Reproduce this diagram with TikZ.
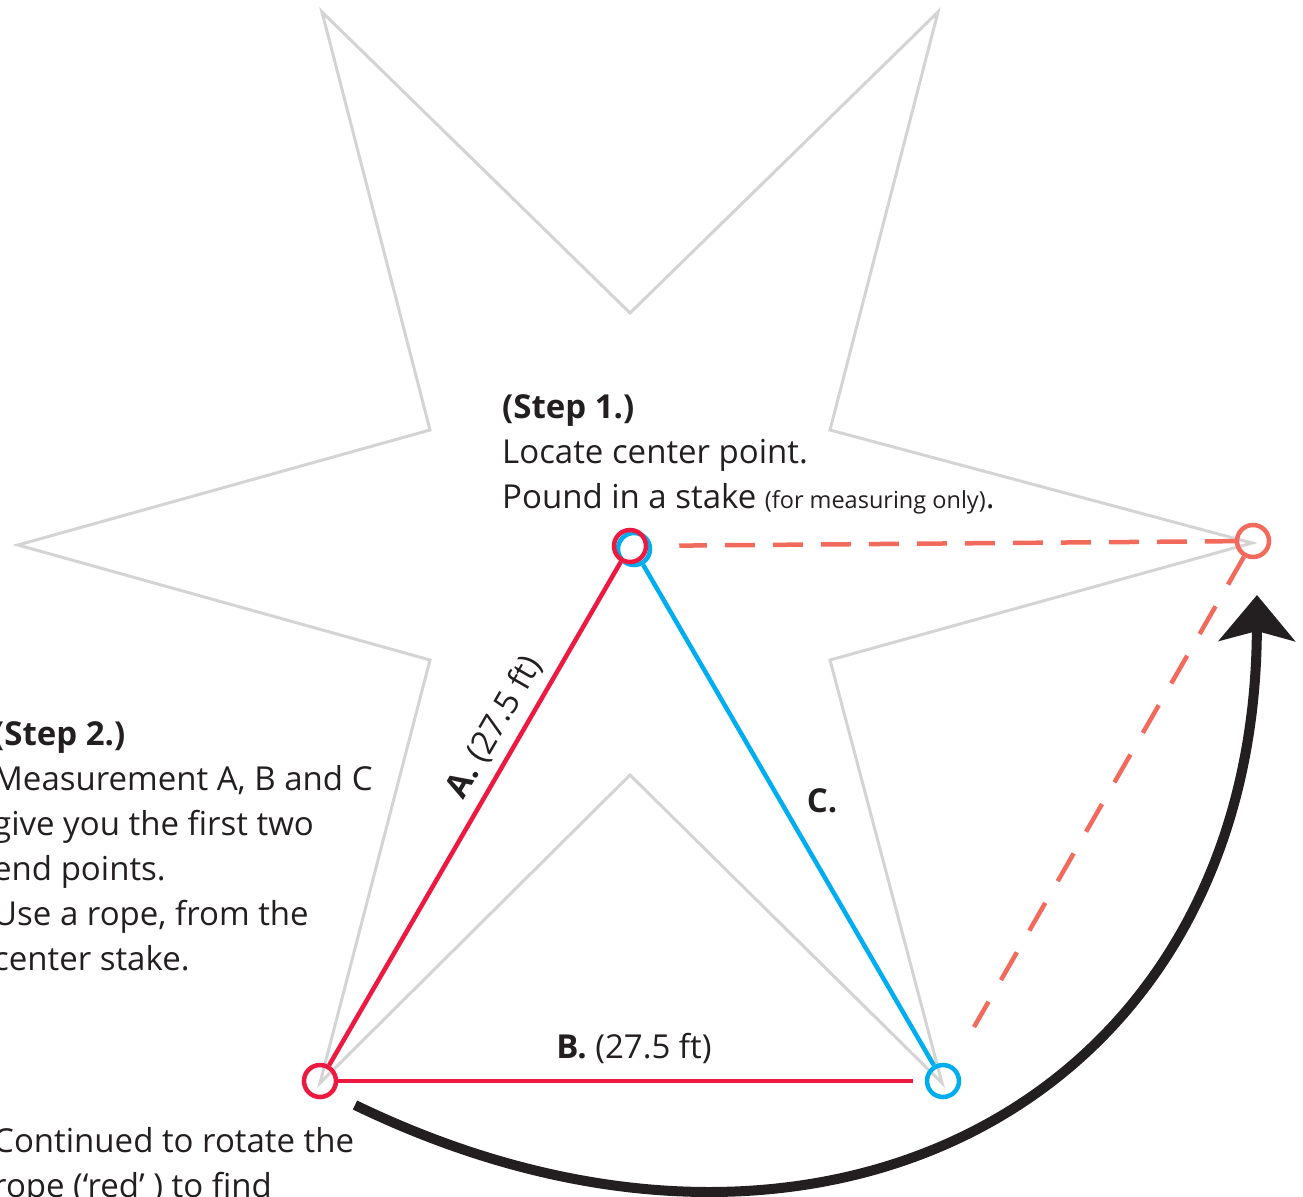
\documentclass[tikz,border=0pt]{standalone}
\usepackage{fontspec}
\setmainfont{Open Sans}
\usetikzlibrary{arrows.meta}
\definecolor{ropered}{RGB}{237,25,65}
\definecolor{ropeblue}{RGB}{0,174,239}
\definecolor{ropeorange}{RGB}{242,106,92}
\definecolor{stargray}{RGB}{212,212,212}
\definecolor{ink}{RGB}{35,31,32}
\tikzset{
  txt/.style={anchor=base west, inner sep=0pt, text=ink, font=\fontsize{33}{45}\selectfont},
  lbl/.style={inner sep=0pt, text=ink, font=\fontsize{33}{45}\selectfont},
  ring/.style={circle, draw=#1, line width=4.5pt, minimum size=32pt, inner sep=0pt},
  rope/.style={draw=#1, line width=4.5pt},
  dashrope/.style={draw=ropeorange, line width=4.5pt, dash pattern=on 30pt off 18pt},
  dashrope2/.style={draw=ropeorange, line width=4.5pt, dash pattern=on 32pt off 25pt},
  star/.style={draw=stargray, line width=3pt, line join=miter, miter limit=20},
  bigarrow/.style={draw=ink, line width=10pt, -{Stealth[length=46pt, width=76pt, inset=10pt]}}
}
\begin{document}
\begin{tikzpicture}[x=1pt,y=-1pt]
\useasboundingbox (0,0) rectangle (1303,1196);
\clip (0,0) rectangle (1303,1196);
% star outline
\draw[star] (322,12) -- (630,313) -- (938,12) -- (830,430) -- (1252,543) -- (830,660)
  -- (942,1083) -- (630,775) -- (320,1083) -- (430,660) -- (18,545) -- (430,430) -- cycle;
% stakes
\node[ring=ropeblue] (bctr) at (634,549) {};
\node[ring=ropered] (rctr) at (630,546) {};
\node[ring=ropered] (rbl) at (320,1081) {};
\node[ring=ropeblue] (bbr) at (943,1081) {};
\node[ring=ropeorange] (ornode) at (1253,541) {};
% ropes
\draw[rope=ropered] (rbl) -- node[pos=0.645, sloped, above=9pt, lbl] {\textbf{A.} (27.5 ft)} (rctr);
\draw[rope=ropered, shorten >=12pt] (rbl) -- (bbr);
\draw[rope=ropeblue] (bctr) -- (bbr);
\draw[dashrope, shorten >=31pt] (ornode) -- (rctr);
\draw[dashrope2, shorten >=44pt] (ornode) -- (bbr);
% rotation arrow
\coordinate (arS) at (355,1105);
\coordinate (arE) at (1257,595);
\draw[bigarrow] (arS) .. controls (820,1330) and (1255,1100) .. (arE);
% labels
\node[lbl, anchor=base] (blab) at (634,1058) {\textbf{B.} (27.5 ft)};
\node[lbl, anchor=base] (clab) at (822,812) {\textbf{C.}};
% step 1
\node[txt] (s1a) at (502,418) {\textbf{(Step 1.)}};
\node[txt] (s1b) at (502,463) {Locate center point.};
\node[txt] (s1c) at (502,508) {Pound in a stake {\fontsize{23.5}{26}\selectfont (for measuring only)}.};
% step 2
\node[txt] (s2a) at (-7,745) {\textbf{(Step 2.)}};
\node[txt] (s2b) at (-7,790) {Measurement A, B and C};
\node[txt] (s2c) at (-7,835) {give you the first two};
\node[txt] (s2d) at (-7,880) {end points.};
\node[txt] (s2e) at (-7,925) {Use a rope, from the};
\node[txt] (s2f) at (-7,970) {center stake.};
% step 3
\node[txt] (s3a) at (-7,1152) {Continued to rotate the};
\node[txt] (s3b) at (-7,1197) {rope (‘red’ ) to find};
\end{tikzpicture}
\end{document}
